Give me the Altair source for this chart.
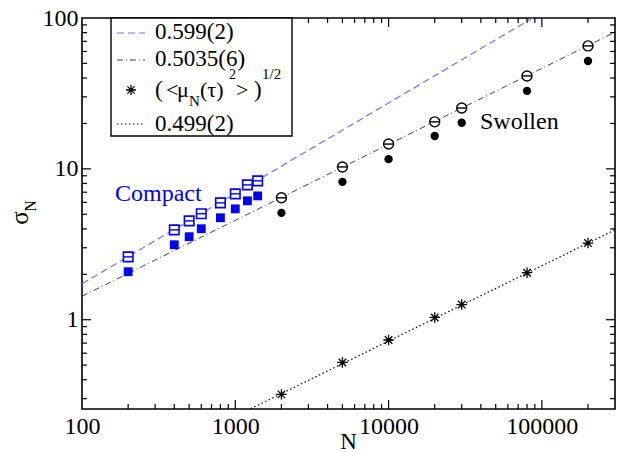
import altair as alt
import pandas as pd

# Compact regime: sigma_N (open squares) and mu_N (filled squares)
N_compact = [200, 400, 500, 600, 800, 1000, 1200, 1400]
sigma_compact = [2.61, 3.94, 4.52, 5.04, 5.95, 6.83, 7.83, 8.33]
mu_compact = [2.08, 3.14, 3.55, 4.01, 4.74, 5.43, 6.14, 6.62]

# Swollen regime: sigma_N (open circles) and mu_N (filled circles)
N_swollen = [2000, 5000, 10000, 20000, 30000, 80000, 200000]
sigma_swollen = [6.43, 10.3, 14.6, 20.5, 25.3, 41.3, 65.3]
mu_swollen = [5.11, 8.2, 11.6, 16.5, 20.2, 32.9, 51.9]

# ( <mu_N(tau)^2> )^(1/2)
N_rms = [2000, 5000, 10000, 20000, 30000, 80000, 200000]
rms_mu = [0.32, 0.521, 0.734, 1.035, 1.26, 2.05, 3.22]

# power-law fits: straight segments on log-log axes (end points)
fit_0599_N = [100, 87000]
fit_0599_s = [1.73, 100]
fit_05035_N = [100, 300000]
fit_05035_s = [1.43, 80.6]
fit_0499_N = [1260, 300000]
fit_0499_s = [0.257, 3.94]

# axis labels and ticks
x_labels = [100, 1000, 10000, 100000]
y_labels = [1, 10, 100]
x_major = [1000, 10000, 100000]
x_minor = [k * 10 ** e for e in (2, 3, 4) for k in range(2, 10)] + [200000]
y_major = [1, 10]
y_minor = [round(k * 10.0 ** e, 3) for e in (-1, 0, 1) for k in range(3, 10)] + [2, 20]

W, H = 533, 391
FONT = "Liberation Serif"
BLUE = "#0000ff"

xs = alt.Scale(type="log", domain=[100, 300000], nice=False)
ys = alt.Scale(type="log", domain=[0.256, 100], nice=False)
xax = alt.Axis(values=x_labels, format="d", title=None, labelFlush=False,
               labelOverlap=False, labelPadding=5)
yax = alt.Axis(values=y_labels, format="d", title=None, labelFlush=False,
               labelOverlap=False, labelPadding=4)


def X(field="N"):
    return alt.X(f"{field}:Q", scale=xs, axis=xax)


def Y(field="s"):
    return alt.Y(f"{field}:Q", scale=ys, axis=yax)


def frame(n, s):
    return pd.DataFrame({"N": n, "s": s})


one = pd.DataFrame({"a": [0]})
layers = []

# fit lines
layers.append(alt.Chart(frame(fit_0599_N, fit_0599_s)).mark_line(
    color="#7070ff", strokeWidth=1.2, strokeDash=[7, 4]).encode(x=X(), y=Y()))
layers.append(alt.Chart(frame(fit_05035_N, fit_05035_s)).mark_line(
    color="#404040", strokeWidth=1, strokeDash=[6, 3, 1, 3]).encode(x=X(), y=Y()))
layers.append(alt.Chart(frame(fit_0499_N, fit_0499_s)).mark_line(
    color="black", strokeWidth=1.2, strokeDash=[1.5, 2.5]).encode(x=X(), y=Y()))

BAR = "M-1,0L1,0"
STAR = "M0,-1L0,1M-1,0L1,0M-0.72,-0.72L0.72,0.72M-0.72,0.72L0.72,-0.72"

# compact points
layers.append(alt.Chart(frame(N_compact, mu_compact)).mark_point(
    shape="square", filled=True, color=BLUE, size=78, opacity=1).encode(x=X(), y=Y()))
layers.append(alt.Chart(frame(N_compact, sigma_compact)).mark_point(
    shape="square", fill="white", stroke=BLUE, strokeWidth=1.6, size=90,
    opacity=1, fillOpacity=1).encode(x=X(), y=Y()))
layers.append(alt.Chart(frame(N_compact, sigma_compact)).mark_point(
    shape=BAR, stroke=BLUE, strokeWidth=1.4, size=90, opacity=1).encode(x=X(), y=Y()))

# swollen points
layers.append(alt.Chart(frame(N_swollen, mu_swollen)).mark_point(
    shape="circle", filled=True, color="black", size=70, opacity=1).encode(x=X(), y=Y()))
layers.append(alt.Chart(frame(N_swollen, sigma_swollen)).mark_point(
    shape="circle", fill="white", stroke="black", strokeWidth=1.4, size=100,
    opacity=1, fillOpacity=1).encode(x=X(), y=Y()))
layers.append(alt.Chart(frame(N_swollen, sigma_swollen)).mark_point(
    shape=BAR, stroke="black", strokeWidth=1.4, size=100, opacity=1).encode(x=X(), y=Y()))

# rms points
layers.append(alt.Chart(frame(N_rms, rms_mu)).mark_point(
    shape=STAR, stroke="black", strokeWidth=1.3, size=110, opacity=1).encode(x=X(), y=Y()))

# inward ticks on all four sides
def x_ticks(vals, length):
    base = alt.Chart(pd.DataFrame({"N": vals})).mark_rule(color="black", strokeWidth=1.2)
    return [base.encode(x=X(), y=alt.value(H), y2=alt.value(H - length)),
            base.encode(x=X(), y=alt.value(0), y2=alt.value(length))]


def y_ticks(vals, length):
    base = alt.Chart(pd.DataFrame({"s": vals})).mark_rule(color="black", strokeWidth=1.2)
    return [base.encode(y=Y(), x=alt.value(0), x2=alt.value(length)),
            base.encode(y=Y(), x=alt.value(W), x2=alt.value(W - length))]


layers += x_ticks(x_major, 9) + x_ticks(x_minor, 5)
layers += y_ticks(y_major, 9) + y_ticks(y_minor, 5)

# legend box and entries
layers.append(alt.Chart(one).mark_rect(fill="white", stroke="black", strokeWidth=1.4).encode(
    x=alt.value(29), x2=alt.value(210), y=alt.value(0), y2=alt.value(118)))
layers.append(alt.Chart(one).mark_rule(color="#7070ff", strokeWidth=1.2, strokeDash=[7, 4]).encode(
    x=alt.value(35), x2=alt.value(63), y=alt.value(15)))
layers.append(alt.Chart(one).mark_rule(color="#404040", strokeWidth=1, strokeDash=[6, 3, 1, 3]).encode(
    x=alt.value(35), x2=alt.value(63), y=alt.value(42)))
layers.append(alt.Chart(one).mark_point(shape=STAR, stroke="black", strokeWidth=1.3, size=100,
                                        opacity=1).encode(x=alt.value(49), y=alt.value(72)))
layers.append(alt.Chart(one).mark_rule(color="black", strokeWidth=1.2, strokeDash=[1.5, 2.5]).encode(
    x=alt.value(35), x2=alt.value(63), y=alt.value(106)))


def label(text, x, y, size=23, color="black", angle=None, align="left"):
    kw = dict(text=text, font=FONT, fontSize=size, color=color, align=align,
              baseline="alphabetic")
    if angle is not None:
        kw["angle"] = angle
    return alt.Chart(one).mark_text(**kw).encode(x=alt.value(x), y=alt.value(y))


layers += [
    label("0.599(2)", 73, 21),
    label("0.5035(6)", 73, 48),
    label("(", 73, 79),
    label("<", 84, 79, size=22),
    label("μ", 95, 79, size=22),
    label("N", 107, 88, size=15),
    label("(τ)", 118, 79, size=22),
    label("2", 147, 61, size=14),
    label(">", 154, 79, size=22),
    label(")", 172, 79),
    label("1/2", 180, 61, size=15),
    label("0.499(2)", 73, 113),
    label("Compact", 33, 183, size=24, color=BLUE),
    label("Swollen", 398, 111, size=24),
    label("N", W / 2, 431, size=23, align="center"),
    label("σ", -54, 200, size=25, angle=270, align="center"),
    label("N", -46, 188, size=16, angle=270, align="center"),
]

chart = alt.layer(*layers).properties(
    width=W, height=H,
    padding={"left": 82, "top": 18, "right": 8, "bottom": 44},
    autosize=alt.AutoSizeParams(type="none"),
).configure_view(stroke="black", strokeWidth=1.6).configure_axis(
    labelFont=FONT, labelFontSize=24, labelColor="black", domain=False,
    ticks=False, grid=False)

chart.save("out.html", embed_options={"renderer": "svg", "actions": False})
